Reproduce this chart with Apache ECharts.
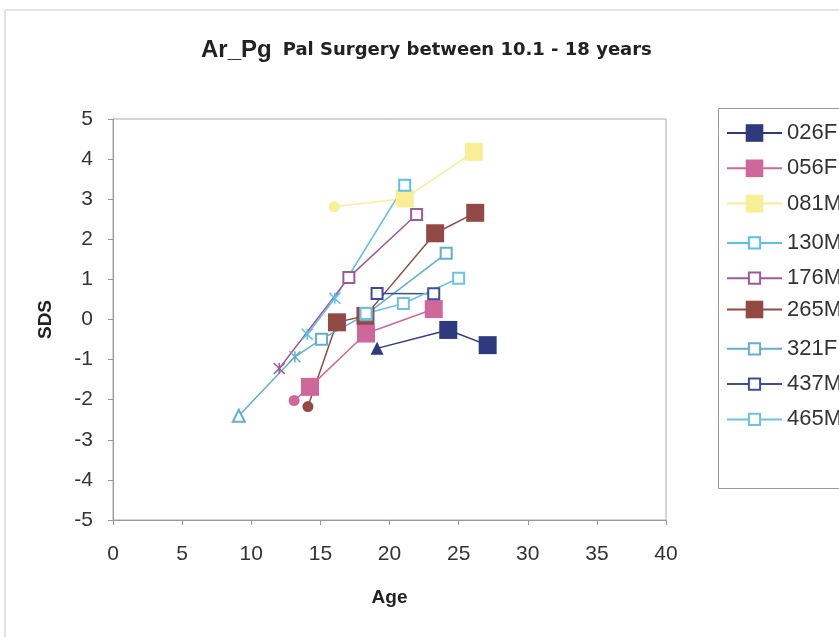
<!DOCTYPE html>
<html>
<head>
<meta charset="utf-8">
<script src="https://cdn.jsdelivr.net/npm/echarts@6/dist/echarts.min.js"></script>
<style>
html,body{margin:0;padding:0;background:#fff;}
#c{width:839px;height:637px;}
</style>
</head>
<body>
<div id="c"></div>
<script>
// ---- data ----
const seriesNames = ['026F','056F','081M','130M','176M','265M','321F','437M','465M'];
const xTicks = [0,5,10,15,20,25,30,35,40];
const yTicks = [-5,-4,-3,-2,-1,0,1,2,3,4,5];

const age026F = [19.1, 24.25, 27.1];
const sds026F = [-0.72, -0.26, -0.64];
const age056F = [13.1, 14.25, 18.3, 23.2];
const sds056F = [-2.02, -1.68, -0.35, 0.26];
const age081M = [16.0, 21.1, 26.1];
const sds081M = [2.81, 3.02, 4.18];
const age130M = [14.05, 16.05, 21.1];
const sds130M = [-0.37, 0.53, 3.35];
const age176M = [12.03, 17.06, 21.96];
const sds176M = [-1.22, 1.05, 2.62];
const age265M = [14.1, 16.2, 18.26, 23.3, 26.2];
const sds265M = [-2.17, -0.07, 0.09, 2.15, 2.66];
const age321F = [9.1, 13.16, 15.08, 18.3, 24.1];
const sds321F = [-2.4, -0.93, -0.49, 0.12, 1.65];
const age437M = [19.1, 23.2];
const sds437M = [0.65, 0.64];
const age465M = [18.3, 21.0, 25.0];
const sds465M = [0.15, 0.4, 1.03];

const ages = {'026F':age026F,'056F':age056F,'081M':age081M,'130M':age130M,'176M':age176M,'265M':age265M,'321F':age321F,'437M':age437M,'465M':age465M};
const sdss = {'026F':sds026F,'056F':sds056F,'081M':sds081M,'130M':sds130M,'176M':sds176M,'265M':sds265M,'321F':sds321F,'437M':sds437M,'465M':sds465M};

// ---- styles ----
const ASTER = 'path://M0,0L10,10M10,0L0,10M5,0L5,10';
const styles = {
  '026F': {color:'#2F3A7E', symbol:'rect', size:18, first:[{symbol:'triangle', size:13}]},
  '056F': {color:'#D0679A', symbol:'rect', size:18, first:[{symbol:'circle', size:11}]},
  '081M': {color:'#F8EE96', symbol:'rect', size:18, first:[{symbol:'circle', size:11}]},
  '130M': {color:'#5BC0E8', symbol:'emptyRect', size:11, first:[{symbol:ASTER, size:11},{symbol:ASTER, size:11}]},
  '176M': {color:'#9E5A9A', symbol:'emptyRect', size:11, first:[{symbol:ASTER, size:11}]},
  '265M': {color:'#944A44', symbol:'rect', size:18, first:[{symbol:'circle', size:11}]},
  '321F': {color:'#5FAFD0', symbol:'emptyRect', size:11, first:[{symbol:'emptyTriangle', size:12},{symbol:ASTER, size:11}]},
  '437M': {color:'#3E4C9E', symbol:'emptyRect', size:11, first:[]},
  '465M': {color:'#6BC3E0', symbol:'emptyRect', size:11, first:[]}
};

const FONT = '"Liberation Sans", Arial, sans-serif';

const series = seriesNames.map(function(n){
  const st = styles[n];
  const data = ages[n].map(function(a, i){
    const item = {value:[a, sdss[n][i]]};
    const f = st.first[i];
    if (f) {
      item.symbol = f.symbol;
      item.symbolSize = f.size;
      if (f.symbol === ASTER) {
        item.itemStyle = {color:'none', borderColor:st.color, borderWidth:1.5};
      }
    }
    return item;
  });
  return {
    name:n, type:'line', data:data,
    symbol:st.symbol, symbolSize:st.size,
    showAllSymbol:true,
    color:st.color,
    itemStyle:{color:st.color, borderWidth: st.symbol==='emptyRect'?1.5:0},
    lineStyle:{color:st.color, width:1.5},
    emphasis:{disabled:true},
    animation:false
  };
});

const legends = seriesNames.map(function(n, i){
  const big = styles[n].symbol === 'rect';
  const h = big ? 22 : 14;
  return {
    data:[n], left:726, top: 133 + i*35.3 - h/2, padding:0,
    itemWidth:55, itemHeight:h, itemGap:0,
    textStyle:{fontSize:22, color:'#333', fontFamily:FONT},
    selectedMode:false
  };
});

const chart = echarts.init(document.getElementById('c'), null, {renderer:'canvas'});
chart.setOption({
  backgroundColor:'#fff',
  animation:false,
  title:{
    text:'{a|Ar_Pg}{b|Pal Surgery between 10.1 - 18 years}',
    left:196, top:33,
    textStyle:{rich:{
      a:{fontSize:24, fontWeight:'bold', color:'#222', fontFamily:FONT, padding:[0,11,0,0]},
      b:{fontSize:18, fontWeight:'bold', color:'#222', fontFamily:'"DejaVu Sans", sans-serif'}
    }}
  },
  legend: legends,
  graphic:[
    {type:'rect', shape:{x:5, y:10, width:900, height:700}, style:{fill:'none', stroke:'#c8c8c8', lineWidth:1}, silent:true, z:-1},
    {type:'rect', shape:{x:718.5, y:108.5, width:200, height:380}, style:{fill:'none', stroke:'#999', lineWidth:1}, silent:true}
  ],
  grid:{left:113, top:119, width:553, height:401, show:true, borderColor:'#aaa', borderWidth:1, backgroundColor:'#fff'},
  xAxis:{
    type:'value', min:0, max:40, interval:5,
    name:'Age', nameLocation:'middle', nameGap:68,
    nameTextStyle:{fontSize:19, fontWeight:'bold', color:'#222', fontFamily:FONT},
    axisLine:{onZero:false, lineStyle:{color:'#999'}},
    axisTick:{show:true, length:5, lineStyle:{color:'#999'}},
    splitLine:{show:false},
    axisLabel:{fontSize:21, color:'#333', fontFamily:FONT, margin:24}
  },
  yAxis:{
    type:'value', min:-5, max:5, interval:1,
    name:'SDS', nameLocation:'middle', nameGap:58, nameRotate:90,
    nameTextStyle:{fontSize:19, fontWeight:'bold', color:'#222', fontFamily:FONT},
    axisLine:{show:true, onZero:false, lineStyle:{color:'#999'}},
    axisTick:{show:true, length:5, lineStyle:{color:'#999'}},
    splitLine:{show:false},
    axisLabel:{fontSize:21, color:'#333', fontFamily:FONT, margin:20}
  },
  series:series
});
</script>
</body>
</html>
